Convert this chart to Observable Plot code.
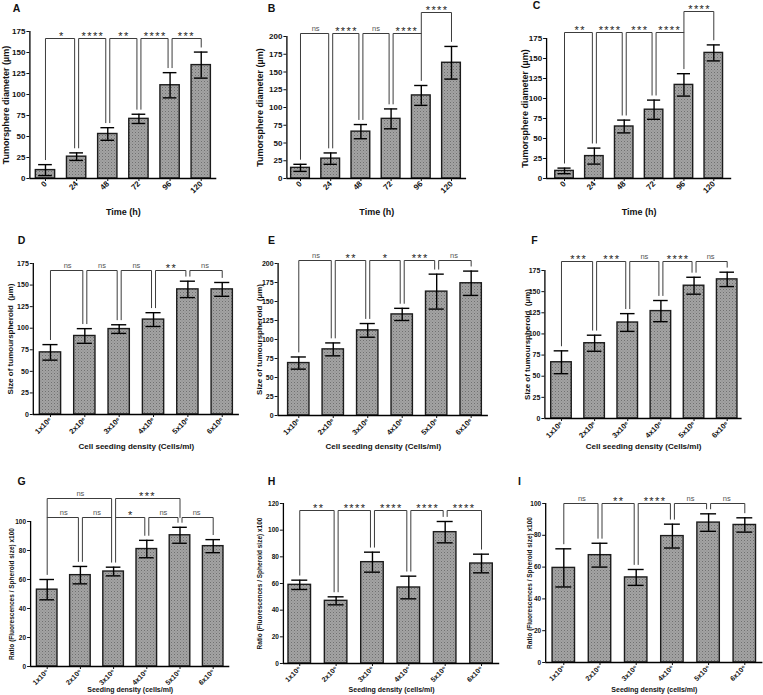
<!DOCTYPE html>
<html>
<head>
<meta charset="utf-8">
<script src="https://cdn.jsdelivr.net/npm/d3@7"></script>
<script src="https://cdn.jsdelivr.net/npm/@observablehq/plot@0.6"></script>
<style>
  html, body { margin: 0; padding: 0; background: #fff; }
  #fig { position: relative; width: 763px; height: 695px; overflow: hidden; background: #fff; }
  #fig svg { position: absolute; }
</style>
</head>
<body>
<svg width="0" height="0" style="position:absolute">
  <defs>
    <pattern id="dots" width="3" height="3" patternUnits="userSpaceOnUse">
      <rect width="3" height="3" fill="#a3a3a3"></rect>
      <rect x="0" y="0" width="1" height="1" fill="#707070"></rect>
      <rect x="1.5" y="1.5" width="1" height="1" fill="#888888"></rect>
    </pattern>
  </defs>
</svg>
<div id="fig"></div>
<script>
// ---------------- data ----------------
const timeLabels = ["0", "24", "48", "72", "96", "120"];
const densityLabels = ["1x10\u2076", "2x10\u2076", "3x10\u2076", "4x10\u2076", "5x10\u2076", "6x10\u2076"];

const meanA = [10, 26, 53, 71, 111, 135];
const errA  = [6.5, 4.5, 7.5, 5.5, 15, 15.5];
const sigA  = [[0,1,"*",0],[1,2,"****",0],[2,3,"**",0],[3,4,"****",0],[4,5,"***",0]];

const meanB = [15, 28, 66, 84, 117, 163];
const errB  = [5, 8, 10, 14, 14, 23];
const sigB  = [[0,1,"ns",0],[1,2,"****",0],[2,3,"ns",0],[3,4,"****",0],[4,5,"****",1]];

const meanC = [9.5, 28, 65, 86, 117, 157];
const errC  = [3.5, 10, 8, 12, 14, 10];
const sigC  = [[0,1,"**",0],[1,2,"****",0],[2,3,"***",0],[3,4,"****",0],[4,5,"****",1]];

const meanD = [72, 91, 99, 110, 145, 145];
const errD  = [9, 8.5, 5, 8, 9.5, 8];
const sigD  = [[0,1,"ns",0],[1,2,"ns",0],[2,3,"ns",0],[3,4,"**",0],[4,5,"ns",0]];

const meanE = [69, 87, 112, 133, 163, 174];
const errE  = [8, 8.5, 9, 8, 23, 16];
const sigE  = [[0,1,"ns",0],[1,2,"**",0],[2,3,"*",0],[3,4,"***",0],[4,5,"ns",0]];

const meanF = [66.5, 89, 113.5, 127, 157, 164.5];
const errF  = [13.5, 9.5, 10.5, 12.5, 10, 8.5];
const sigF  = [[0,1,"***",0],[1,2,"***",0],[2,3,"ns",0],[3,4,"****",0],[4,5,"ns",0]];

const meanG = [53, 63, 65.5, 81, 90.5, 83];
const errG  = [7, 6, 3, 6, 5.5, 4.5];
const sigG  = [[0,1,"ns",0],[1,2,"ns",0],[2,3,"*",0],[3,4,"ns",0],[4,5,"ns",0],[0,2,"ns",1],[2,4,"***",1]];

const meanH = [59, 47, 76, 57, 98.5, 75];
const errH  = [3.5, 3, 7.5, 8.5, 8, 7];
const sigH  = [[0,1,"**",0],[1,2,"****",0],[2,3,"****",0],[3,4,"****",0],[4,5,"****",0]];

const meanI = [59.5, 67.5, 53.5, 79.5, 88, 86.5];
const errI  = [12, 7.5, 5, 7.5, 5.5, 4.5];
const sigI  = [[0,1,"ns",0],[1,2,"**",0],[2,3,"****",0],[3,4,"ns",0],[4,5,"ns",0]];

const titleTumor = "Tumorsphere diameter (\u00b5m)";
const titleSize  = "Size of tumourspheroid\u00a0 (\u00b5m)";
const titleRatio = "Ratio (Fluorescences / Spheroid size) x100";
const titleTime  = "Time (h)";
const titleCell  = "Cell seeding density (Cells/ml)";
const titleSeed  = "Seeding density (cells/ml)";

// ---------------- layout ----------------
const fontStack = "'Liberation Sans', Arial, Helvetica, sans-serif";
const row1 = {tickFont: 8, xtickFont: 8, xtitleFont: 9, ytitleFont: 9, xtitleY: 212};
const row2 = {tickFont: 7, xtickFont: 7.5, xtitleFont: 8, ytitleFont: 8, xtitleY: 446};
const row3 = {tickFont: 6.5, xtickFont: 7, xtitleFont: 7, ytitleFont: 6.5, xtitleY: 689};

const panels = [
  {letter:"A", labels:timeLabels, mean:meanA, err:errA, sig:sigA, ymax:175, ystep:25, ytitle:titleTumor, xtitle:titleTime, ...row1,
   box:[0,0,255,232], frame:[29.4,31,216.3,178], pad:[0.5,0.5], rows:[7], letterAt:[16,8], ytitleX:6},
  {letter:"B", labels:timeLabels, mean:meanB, err:errB, sig:sigB, ymax:200, ystep:25, ytitle:titleTumor, xtitle:titleTime, ...row1,
   box:[255,0,255,232], frame:[286.4,36,466.1,178], pad:[0.45,0.5], rows:[-3,-24], letterAt:[271,8], ytitleX:260},
  {letter:"C", labels:timeLabels, mean:meanC, err:errC, sig:sigC, ymax:175, ystep:25, ytitle:titleTumor, xtitle:titleTime, ...row1,
   box:[510,0,253,232], frame:[546.1,38,731.2,178], pad:[0.6,0.6], rows:[-6,-27], letterAt:[536,5], ytitleX:525},
  {letter:"D", labels:densityLabels, mean:meanD, err:errD, sig:sigD, ymax:175, ystep:25, ytitle:titleSize, xtitle:titleCell, ...row2,
   box:[0,232,255,233], frame:[32.8,263,238.9,414], pad:[0.5,0.5], rows:[7], letterAt:[21,240], ytitleX:10},
  {letter:"E", labels:densityLabels, mean:meanE, err:errE, sig:sigE, ymax:200, ystep:25, ytitle:titleSize, xtitle:titleCell, ...row2,
   box:[255,232,255,233], frame:[277.6,263,487.9,415], pad:[0.6,0.5], rows:[-3], letterAt:[271,240], ytitleX:259},
  {letter:"F", labels:densityLabels, mean:meanF, err:errF, sig:sigF, ymax:175, ystep:25, ytitle:titleSize, xtitle:titleCell, ...row2,
   box:[510,232,253,233], frame:[544.4,270,741.6,418], pad:[0.5,0.45], rows:[-9], letterAt:[534,240], ytitleX:527},
  {letter:"G", labels:densityLabels, mean:meanG, err:errG, sig:sigG, ymax:100, ystep:20, ytitle:titleRatio, xtitle:titleSeed, ...row3,
   box:[0,465,255,230], frame:[30.1,521,229.3,666], pad:[0.5,0.5], rows:[-4,-23], letterAt:[21,481], ytitleX:11},
  {letter:"H", labels:densityLabels, mean:meanH, err:errH, sig:sigH, ymax:120, ystep:20, ytitle:titleRatio, xtitle:titleSeed, ...row3,
   box:[255,465,255,230], frame:[282.9,503,499.2,663], pad:[0.45,0.5], rows:[7], letterAt:[271,481], ytitleX:259},
  {letter:"I", labels:densityLabels, mean:meanI, err:errI, sig:sigI, ymax:100, ystep:20, ytitle:titleRatio, xtitle:titleSeed, ...row3,
   box:[510,465,253,230], frame:[545.2,503,762.4,662], pad:[0.5,0.5], rows:[0], letterAt:[519,481], ytitleX:529}
];

function drawPanel(p) {
  const [bx, by, bw, bh] = p.box;
  const [fl, ft, fr, fb] = p.frame;
  const n = p.labels.length;
  const xDom = [-p.pad[0], n - 1 + p.pad[1]];
  const pxX = (fr - fl) / (xDom[1] - xDom[0]);
  const pxY = (fb - ft) / p.ymax;
  const off = 2 / pxX, gap = 5 / pxY;
  const rowY = p.rows.map(o => p.ymax - o / pxY);

  const bars = p.mean.map((m, i) => ({i, m, lo: m - p.err[i], hi: m + p.err[i]}));
  const sig = p.sig.map(([a, b, t, r]) => ({a, b, t, r}));
  const touches = (k, r) => sig.some(s => s.r === r && (s.a === k || s.b === k));
  const legEnd = (k, r) => (r > 0 && touches(k, r - 1)) ? rowY[r - 1] : bars[k].hi + gap;

  const pts = [];
  sig.forEach((s, j) => {
    const y = rowY[s.r];
    const xa = s.a + (sig.some(o => o.r === s.r && o.b === s.a) ? off : 0);
    const xb = s.b - (sig.some(o => o.r === s.r && o.a === s.b) ? off : 0);
    pts.push({k: j, x: xa, y: legEnd(s.a, s.r)}, {k: j, x: xa, y}, {k: j, x: xb, y}, {k: j, x: xb, y: legEnd(s.b, s.r)});
  });
  const lab = sig.map(s => ({x: (s.a + s.b) / 2, y: rowY[s.r], t: s.t}));

  const svg = Plot.plot({
    width: bw, height: bh,
    marginLeft: fl - bx, marginTop: ft - by, marginRight: bx + bw - fr, marginBottom: by + bh - fb,
    x: {type: "linear", domain: xDom},
    y: {type: "linear", domain: [0, p.ymax]},
    style: {fontFamily: fontStack, fontWeight: "bold", background: "transparent", overflow: "visible", color: "#111"},
    marks: [
      Plot.rect(bars, {x1: d => d.i - 0.31, x2: d => d.i + 0.31, y1: () => 0, y2: "m",
        fill: "url(#dots)", stroke: "#1c1c1c", strokeWidth: 1.4}),
      Plot.ruleX(bars, {x: "i", y1: "lo", y2: "hi", stroke: "#000", strokeWidth: 1.4}),
      Plot.ruleY(bars, {y: "hi", x1: d => d.i - 0.22, x2: d => d.i + 0.22, stroke: "#000", strokeWidth: 1.4}),
      Plot.ruleY(bars, {y: "lo", x1: d => d.i - 0.22, x2: d => d.i + 0.22, stroke: "#000", strokeWidth: 1.4}),
      Plot.line(pts, {x: "x", y: "y", z: "k", stroke: "#3c3c3c", strokeWidth: 1, curve: "linear"}),
      Plot.text(lab.filter(d => d.t === "ns"), {x: "x", y: "y", text: "t", lineAnchor: "bottom", dy: -2.5,
        fontSize: 7.5, fontWeight: "normal", fill: "#555"}),
      Plot.text(lab.filter(d => d.t !== "ns"), {x: "x", y: "y", text: "t", lineAnchor: "bottom", dy: 1.5, dx: 0.7,
        fontSize: 11, fontWeight: "normal", fill: "#222"}),
      Plot.ruleY([0], {stroke: "#000", strokeWidth: 1.3}),
      Plot.ruleX([xDom[0]], {stroke: "#000", strokeWidth: 1.3}),
      Plot.axisY({ticks: d3.range(0, p.ymax + 1, p.ystep), tickSize: 3, tickPadding: 1.5,
        fontSize: p.tickFont, label: null}),
      Plot.axisX({ticks: d3.range(n), tickFormat: i => p.labels[i], tickRotate: -45, tickSize: 3, tickPadding: 1,
        fontSize: p.xtickFont, label: null}),
      Plot.text([p.ytitle], {frameAnchor: "left", dx: p.ytitleX - fl, rotate: -90, lineAnchor: "middle",
        textAnchor: "middle", fontSize: p.ytitleFont}),
      Plot.text([p.xtitle], {frameAnchor: "bottom", dy: p.xtitleY - fb, lineAnchor: "middle",
        textAnchor: "middle", fontSize: p.xtitleFont}),
      Plot.text([p.letter], {frameAnchor: "top-left", dx: p.letterAt[0] - fl, dy: p.letterAt[1] - ft,
        lineAnchor: "middle", textAnchor: "middle", fontSize: 10.5})
    ]
  });
  svg.style.left = bx + "px";
  svg.style.top = by + "px";
  d3.select(svg).selectAll("text")
    .filter(function () { return /^\*+$/.test(this.textContent); })
    .attr("letter-spacing", 1.4);
  document.getElementById("fig").appendChild(svg);
}

panels.forEach(drawPanel);
</script>
</body>
</html>
